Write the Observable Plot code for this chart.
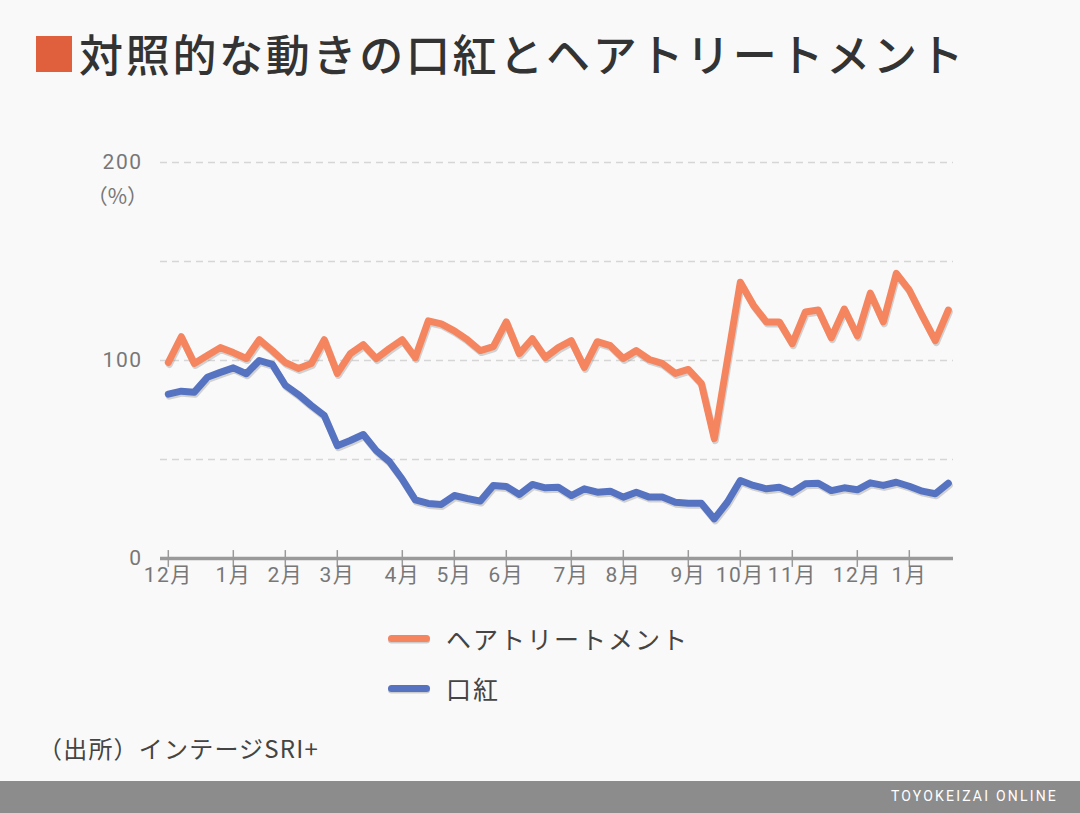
<!DOCTYPE html>
<html>
<head>
<meta charset="utf-8">
<script src="https://cdn.jsdelivr.net/npm/d3@7"></script>
<script src="https://cdn.jsdelivr.net/npm/@observablehq/plot@0.6"></script>
<style>
  html, body { margin: 0; padding: 0; background: #f9f9f9; }
  #page { position: relative; width: 1080px; height: 813px; overflow: hidden; background: #f9f9f9;
          font-family: Roboto, "Noto Sans CJK JP", sans-serif; }
  .abs { position: absolute; white-space: nowrap; }
  #chart { position: absolute; left: 0; top: 100px; }
</style>
</head>
<body>
<div id="page">
  <div class="abs" style="left:36px;top:36px;width:36px;height:36px;background:#e0603e;"></div>
  <div class="abs" id="title" style="left:79px;top:23px;font-family:'Noto Sans CJK JP',sans-serif;font-size:44px;letter-spacing:2.7px;font-weight:500;color:#333;line-height:60px;">対照的な動きの口紅とヘアトリートメント</div>
  <div class="abs" style="right:932px;top:182px;font-family:'Noto Sans CJK JP',sans-serif;font-size:21px;color:#777;line-height:26px;">（%）</div>
  <div id="chart"></div>
  <div id="legend"></div>
  <div class="abs" style="left:38px;top:731px;font-family:'Noto Sans CJK JP',sans-serif;font-size:24px;letter-spacing:1.2px;color:#444;line-height:34px;">（出所）インテージSRI+</div>
  <div class="abs" style="left:0;top:781px;width:1080px;height:32px;background:#8c8c8c;"></div>
  <div class="abs" style="right:22px;top:786px;font-family:Roboto,sans-serif;font-size:14px;color:#fff;letter-spacing:2.2px;line-height:20px;">TOYOKEIZAI ONLINE</div>
</div>
<script>
// Weekly index values (%)
const weeks = d3.range(61);
const hairTreatment = [99,112,98.5,102.5,106.5,104,101,110.5,105,99,96,98.5,110.5,93.5,103.5,108,101,106,110.5,101.5,
  120,118.5,115,110.5,105,107,119.5,103.5,111,101.5,106.5,110,96.5,109.5,107.5,101,105,100.5,98.5,93.5,
  95.5,88.5,60.5,100,139.5,128,119.5,119.5,108.5,124.5,125.5,111.5,126,112.5,134,119.5,144,135.5,122.5,110,125.5];
const lipstick = [83,84.5,84,91.5,94,96.3,93.3,100,98,87.5,82.8,77.3,72.2,57,59.6,62.6,54.5,49,40,29.6,
  27.8,27.3,31.8,30.3,29,36.9,36.4,32.3,37.4,35.7,36,31.8,35.2,33.5,34,31,33.5,31,31,28.4,
  27.9,27.9,20,28.4,39.4,36.9,35.2,36,33.5,37.7,38,34.3,35.7,34.7,38.2,36.9,38.5,36.5,34,32.7,38];
const seriesNames = ["ヘアトリートメント", "口紅"];
const seriesColors = ["#f5855f", "#5673c2"];
const tickWeeks = [0,5,9,13,18,22,26,31,35,40,44,48,53,57];
const tickMonths = ["12月","1月","2月","3月","4月","5月","6月","7月","8月","9月","10月","11月","12月","1月"];
const yLabels = [0,100,200];
const gridValues = [50,100,150,200];

const rows = [];
weeks.forEach((w,i) => {
  rows.push({week: w, value: hairTreatment[i], series: seriesNames[0]});
  rows.push({week: w, value: lipstick[i], series: seriesNames[1]});
});

const plot = Plot.plot({
  width: 1080,
  height: 520,
  marginLeft: 160,
  marginRight: 127,
  marginTop: 62,
  marginBottom: 62,
  style: {background: "transparent", fontFamily: "Roboto, 'Noto Sans CJK JP', sans-serif"},
  x: {type: "linear", domain: [-0.6, 60.4]},
  y: {domain: [0, 200]},
  color: {domain: seriesNames, range: seriesColors},
  marks: [
    Plot.ruleY(gridValues, {stroke: "#d6d6d6", strokeWidth: 1.5, strokeDasharray: "7,5"}),
    Plot.ruleY([0], {stroke: "#9a9a9a", strokeWidth: 3.5}),
    Plot.ruleX(tickWeeks, {y1: -4.5, y2: 4, stroke: "#9a9a9a", strokeWidth: 1.5}),
    Plot.axisX({ticks: tickWeeks, tickFormat: (d) => tickMonths[tickWeeks.indexOf(d)], tickSize: 0, tickPadding: 9,
      color: "#777", label: null}),
    Plot.axisY({ticks: yLabels, tickSize: 0, tickPadding: 18, color: "#777", label: null}),
    Plot.line(rows, {x: "week", y: "value", z: "series", stroke: "#888", strokeOpacity: 0.35, strokeWidth: 7,
      strokeLinejoin: "round", strokeLinecap: "round", dx: 1, dy: 2}),
    Plot.line(rows, {x: "week", y: "value", z: "series", stroke: "series", strokeWidth: 7,
      strokeLinejoin: "round", strokeLinecap: "round"})
  ]
});
d3.select(plot).selectAll("text")
  .style("font-size", "21px")
  .style("letter-spacing", "1.5px")
  .style("fill", "#777");
document.getElementById("chart").appendChild(plot);

// Legend
const legend = document.getElementById("legend");
seriesNames.forEach((name, i) => {
  const top = 638 + i * 50;
  const sw = document.createElement("div");
  sw.className = "abs";
  sw.style.cssText = `left:388px;top:${top-3.5}px;width:42px;height:7px;border-radius:4px;background:${seriesColors[i]};box-shadow:0 1.5px 0 rgba(120,120,120,0.35);`;
  legend.appendChild(sw);
  const t = document.createElement("div");
  t.className = "abs";
  t.style.cssText = `left:446px;top:${top-17}px;font-family:'Noto Sans CJK JP',sans-serif;font-size:25px;letter-spacing:2px;color:#444;line-height:34px;`;
  t.textContent = name;
  legend.appendChild(t);
});
</script>
</body>
</html>
